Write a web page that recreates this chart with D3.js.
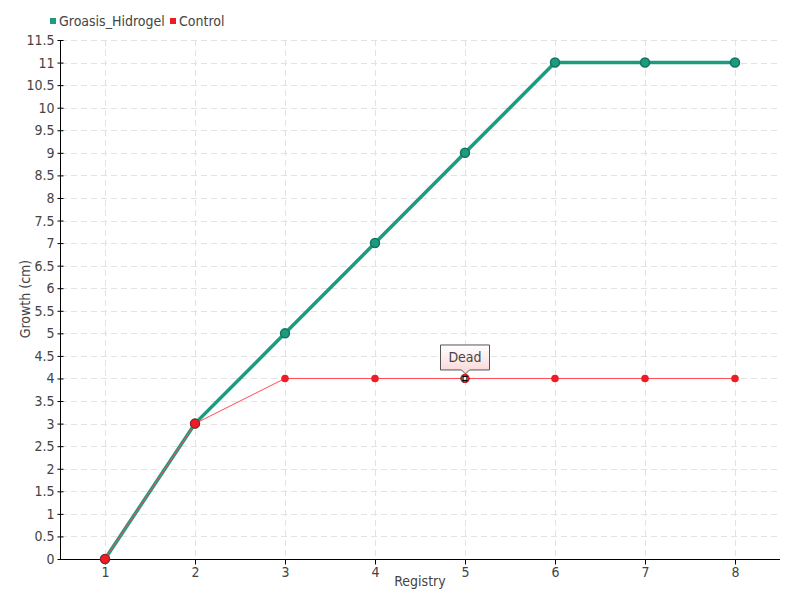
<!DOCTYPE html>
<html><head><meta charset="utf-8">
<script src="https://cdn.jsdelivr.net/npm/d3@7"></script>
<style>
body{margin:0;background:#fff;}
text{font-family:"DejaVu Sans Condensed","DejaVu Sans",sans-serif;font-stretch:condensed;fill:#444;}
</style></head>
<body><svg id="c" width="800" height="600"></svg>
<script>
const registry = [1,2,3,4,5,6,7,8];
const groasis = [0,3,5,7,9,11,11,11];
const control = [0,3,4,4,4,4,4,4];
const yTicks = d3.range(0, 11.51, 0.5);
const seriesNames = ["Groasis_Hidrogel","Control"];
const seriesColors = ["#1b9c7d","#ee1c25"];
const annotation = {x:5, y:4, text:"Dead"};

const svg = d3.select("#c");
const x = d3.scaleLinear().domain([0.5,8.5]).range([60,780]);
const y = d3.scaleLinear().domain([0,11.5]).range([559,40]);

// grid
svg.append("g").selectAll("line").data(yTicks.slice(1)).join("line")
 .attr("x1",61).attr("x2",780).attr("y1",d=>Math.round(y(d))+0.5).attr("y2",d=>Math.round(y(d))+0.5)
 .attr("stroke","#e2e2e2").attr("stroke-dasharray","6,4");
svg.append("g").selectAll("line").data(registry).join("line")
 .attr("x1",d=>Math.round(x(d))+0.5).attr("x2",d=>Math.round(x(d))+0.5).attr("y1",40).attr("y2",559)
 .attr("stroke","#e2e2e2").attr("stroke-dasharray","6,4");

// axes
const xAxis = svg.append("g").attr("transform","translate(0,559.5)")
 .call(d3.axisBottom(x).tickValues(registry).tickFormat(d3.format("d")).tickSize(5).tickPadding(3));
xAxis.select(".domain").attr("d","M60.5,0H780");
const yAxis = svg.append("g").attr("transform","translate(60.5,0)")
 .call(d3.axisLeft(y).tickValues(yTicks).tickFormat(d=>d3.format("")(d)).tickSize(4).tickPadding(2));
yAxis.select(".domain").attr("d","M0,40V559");
yAxis.selectAll(".tick line").attr("x1",-3).attr("x2",3);
[xAxis,yAxis].forEach(a=>{a.selectAll("path,line").attr("stroke","#000");
 a.selectAll("text").style("font-size","14px").attr("fill","#444").style("font-family",null);});

// axis titles
svg.append("text").attr("x",420).attr("y",586).attr("text-anchor","middle").style("font-size","14px").text("Registry");
svg.append("text").attr("transform","translate(30,299) rotate(-90)").attr("text-anchor","middle").style("font-size","14px").text("Growth (cm)");

// lines
const line = vals => d3.line().x((d,i)=>x(registry[i])).y(d=>y(d))(vals);
svg.append("path").attr("d",line(groasis)).attr("fill","none").attr("stroke",seriesColors[0]).attr("stroke-width",3.5);
svg.append("g").selectAll("circle").data(groasis).join("circle")
 .attr("cx",(d,i)=>x(registry[i])).attr("cy",d=>y(d)).attr("r",4.5)
 .attr("fill",seriesColors[0]).attr("stroke","#137360").attr("stroke-width",1.5);
svg.append("path").attr("d",line(control)).attr("fill","none").attr("stroke","#ff4a55").attr("stroke-width",1);
svg.append("g").selectAll("circle").data(control).join("circle")
 .attr("cx",(d,i)=>x(registry[i])).attr("cy",d=>y(d)).attr("r",(d,i)=>i<2?4.5:3.8)
 .attr("fill",(d,i)=>registry[i]===annotation.x?"#fff":seriesColors[1])
 .attr("stroke",(d,i)=>registry[i]===annotation.x?"#000":(i<2?"#b3121b":"none"))
 .attr("stroke-width",(d,i)=>registry[i]===annotation.x?1.5:1);
// highlight ring for annotated point
svg.append("circle").attr("cx",x(annotation.x)).attr("cy",y(annotation.y)).attr("r",3.8)
 .attr("fill","none").attr("stroke",seriesColors[1]).attr("stroke-width",1.2);
svg.append("rect").attr("x",x(annotation.x)-2).attr("y",y(annotation.y)-2).attr("width",4).attr("height",4)
 .attr("fill","#fff").attr("stroke","#000").attr("stroke-width",1.2);

// annotation box
const defs = svg.append("defs");
const g = defs.append("linearGradient").attr("id","pg").attr("x1",0).attr("x2",0).attr("y1",0).attr("y2",1);
g.append("stop").attr("offset","0").attr("stop-color","#fff");
g.append("stop").attr("offset","1").attr("stop-color","#fbd4d4");
const ax = x(annotation.x), ay = y(annotation.y);
const bx = ax-24.5, by = ay-33.5, bw = 49, bh = 25;
svg.append("path").attr("d",`M${bx},${by}H${bx+bw}V${by+bh}H${ax+4.5}L${ax+0.5},${by+bh+4}L${ax-3.5},${by+bh}H${bx}Z`)
 .attr("fill","url(#pg)").attr("stroke","#555").attr("stroke-width",1);
svg.append("text").attr("x",ax).attr("y",by+17).attr("text-anchor","middle").style("font-size","14px").attr("fill","#555").text(annotation.text);

// legend
const leg = svg.append("g");
const lx = [50,170];
seriesNames.forEach((n,i)=>{
 leg.append("rect").attr("x",lx[i]).attr("y",18).attr("width",6).attr("height",6).attr("fill",seriesColors[i]);
 leg.append("text").attr("x",lx[i]+9).attr("y",26).style("font-size","14px").attr("fill","#444").text(n);
});
</script></body></html>
